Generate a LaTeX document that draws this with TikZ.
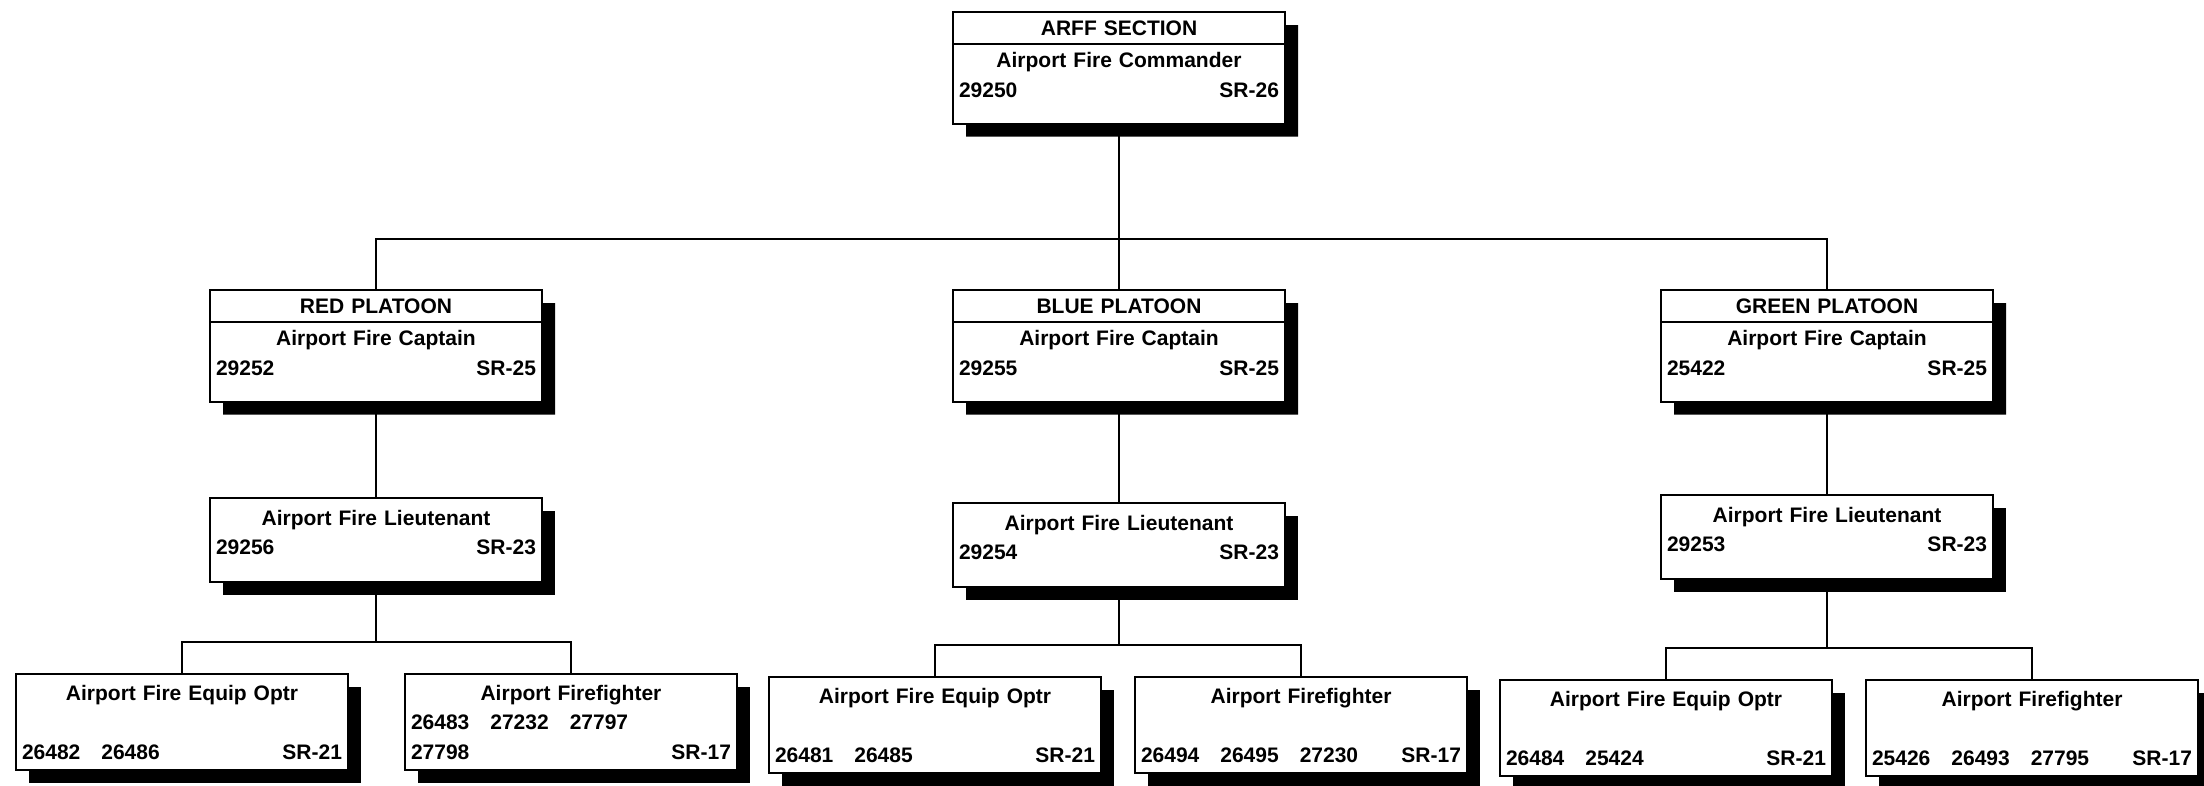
\documentclass[tikz,border=0pt]{standalone}
\usepackage{fontspec}
\setmainfont{Liberation Sans}
\usetikzlibrary{shapes,shadows,backgrounds}

\begin{document}
\begin{tikzpicture}[
    x=1pt, y=-1pt,
    post/.style={rectangle, draw, fill=white, line width=2pt, anchor=north,
        minimum width=332pt, text width=320pt, inner xsep=6pt, align=center,
        font=\fontsize{21}{29.5}\selectfont\bfseries,
        drop shadow={shadow xshift=13pt, shadow yshift=-13pt, fill=black, opacity=1}},
    unit/.style={post, rectangle split, rectangle split parts=2, inner ysep=7.5pt},
    lead/.style={post, inner ysep=12pt},
    crew/.style={post, inner ysep=11pt},
    wire/.style={line width=2pt}
]
    % Section head
    \node[unit] (arff) at (1119,11) {
        ARFF SECTION
        \nodepart{two}
        Airport Fire Commander\\
        29250\hfill SR-26\rule[-18pt]{0pt}{18pt}
    };

    % Platoons
    \node[unit] (red) at (376,289) {
        RED PLATOON
        \nodepart{two}
        Airport Fire Captain\\
        29252\hfill SR-25\rule[-18pt]{0pt}{18pt}
    };

    \node[unit] (blue) at (1119,289) {
        BLUE PLATOON
        \nodepart{two}
        Airport Fire Captain\\
        29255\hfill SR-25\rule[-18pt]{0pt}{18pt}
    };

    \node[unit] (green) at (1827,289) {
        GREEN PLATOON
        \nodepart{two}
        Airport Fire Captain\\
        25422\hfill SR-25\rule[-18pt]{0pt}{18pt}
    };

    % Lieutenants
    \node[lead] (redlt) at (376,497) {
        Airport Fire Lieutenant\\
        29256\hfill SR-23\rule[-15pt]{0pt}{15pt}
    };

    \node[lead] (bluelt) at (1119,502) {
        Airport Fire Lieutenant\\
        29254\hfill SR-23\rule[-15pt]{0pt}{15pt}
    };

    \node[lead] (greenlt) at (1827,494) {
        Airport Fire Lieutenant\\
        29253\hfill SR-23\rule[-15pt]{0pt}{15pt}
    };

    % Crews
    \node[crew] (redeo) at (182,673) {
        Airport Fire Equip Optr\\[29.5pt]
        26482\quad 26486\hfill SR-21
    };

    \node[crew] (redff) at (571,673) {
        Airport Firefighter\\
        26483\quad 27232\quad 27797\hfill\mbox{}\\
        27798\hfill SR-17
    };

    \node[crew] (blueeo) at (935,676) {
        Airport Fire Equip Optr\\[29.5pt]
        26481\quad 26485\hfill SR-21
    };

    \node[crew] (blueff) at (1301,676) {
        Airport Firefighter\\[29.5pt]
        26494\quad 26495\quad 27230\hfill SR-17
    };

    \node[crew] (greeneo) at (1666,679) {
        Airport Fire Equip Optr\\[29.5pt]
        26484\quad 25424\hfill SR-21
    };

    \node[crew] (greenff) at (2032,679) {
        Airport Firefighter\\[29.5pt]
        25426\quad 26493\quad 27795\hfill SR-17
    };

    % Lines
    \begin{scope}[on background layer]
        \coordinate (arffbus) at (1119,239);
        \draw[wire] (arff.south) -- (arffbus);
        \draw[wire] (red.north) |- (arffbus) -| (green.north);
        \draw[wire] (arffbus) -- (blue.north);

        \draw[wire] (red.south) -- (redlt.north);
        \draw[wire] (blue.south) -- (bluelt.north);
        \draw[wire] (green.south) -- (greenlt.north);

        \coordinate (redbus) at (376,642);
        \draw[wire] (redlt.south) -- (redbus);
        \draw[wire] (redeo.north) |- (redbus) -| (redff.north);

        \coordinate (bluebus) at (1119,645);
        \draw[wire] (bluelt.south) -- (bluebus);
        \draw[wire] (blueeo.north) |- (bluebus) -| (blueff.north);

        \coordinate (greenbus) at (1827,648);
        \draw[wire] (greenlt.south) -- (greenbus);
        \draw[wire] (greeneo.north) |- (greenbus) -| (greenff.north);
    \end{scope}

    \pgfresetboundingbox
    \useasboundingbox (0,0) rectangle (2204,785);
\end{tikzpicture}
\end{document}
